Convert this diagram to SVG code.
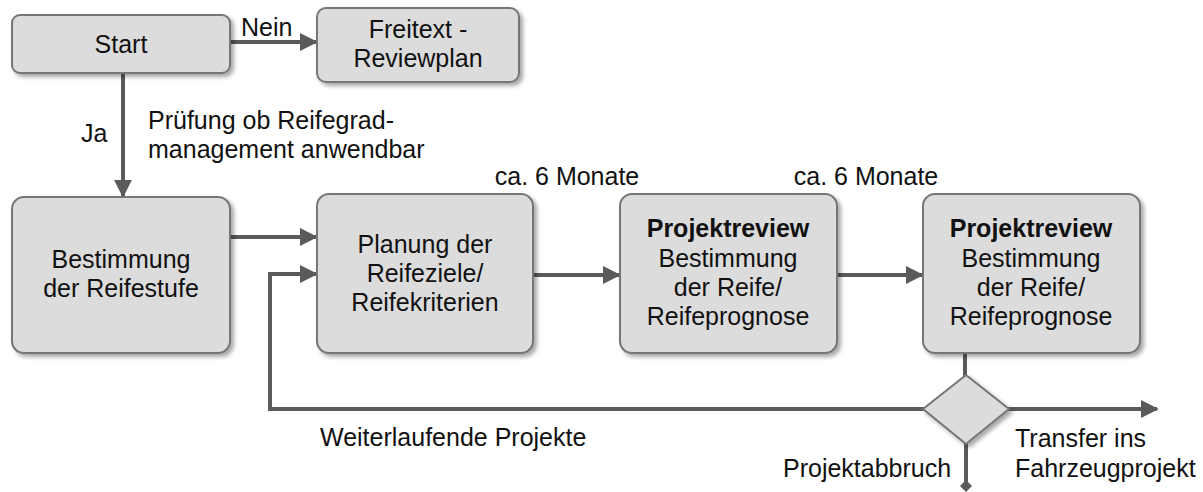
<svg xmlns="http://www.w3.org/2000/svg" width="1203" height="492" viewBox="0 0 1203 492">
  <style>
    .box { fill: #dcdcdc; stroke: #767676; stroke-width: 2; filter: url(#shadow); }
    .lbl { font-family: "Liberation Sans", Arial, sans-serif; font-size: 25px; fill: #111111; }
    .mid { text-anchor: middle; }
    .b { font-weight: bold; }
    .line { fill: none; stroke: #5a5a5a; stroke-width: 4; }
  </style>
  <defs>
    <filter id="shadow" x="-10%" y="-10%" width="125%" height="130%">
      <feGaussianBlur in="SourceAlpha" stdDeviation="2"/>
      <feOffset dx="3" dy="3" result="o"/>
      <feComponentTransfer><feFuncA type="linear" slope="0.35"/></feComponentTransfer>
      <feMerge><feMergeNode/><feMergeNode in="SourceGraphic"/></feMerge>
    </filter>
    <marker id="arrow" viewBox="0 0 10 10" refX="9" refY="5" markerWidth="4.5" markerHeight="4.5" markerUnits="strokeWidth" orient="auto">
      <path d="M0,0 L10,5 L0,10 z" fill="#5a5a5a"/>
    </marker>
    <marker id="dia" viewBox="0 0 10 10" refX="5" refY="5" markerWidth="3" markerHeight="3" markerUnits="strokeWidth" orient="auto">
      <path d="M0,5 L5,0 L10,5 L5,10 z" fill="#5a5a5a"/>
    </marker>
  </defs>

  <!-- connectors -->
  <g id="connectors">
    <line class="line" x1="230" y1="42" x2="316" y2="42" marker-end="url(#arrow)"/>
    <line class="line" x1="123" y1="73" x2="123" y2="196" marker-end="url(#arrow)"/>
    <line class="line" x1="230" y1="237" x2="316" y2="237" marker-end="url(#arrow)"/>
    <polyline class="line" points="925,409 270,409 270,274 316,274" marker-end="url(#arrow)"/>
    <line class="line" x1="533" y1="275" x2="619" y2="275" marker-end="url(#arrow)"/>
    <line class="line" x1="837" y1="275" x2="922" y2="275" marker-end="url(#arrow)"/>
    <line class="line" x1="965" y1="353" x2="965" y2="376"/>
    <line class="line" x1="1008" y1="409" x2="1157" y2="409" marker-end="url(#arrow)"/>
    <line class="line" x1="966" y1="443" x2="966" y2="486" marker-end="url(#dia)"/>
  </g>

  <!-- edge labels -->
  <g id="edge-labels" class="lbl">
    <text x="241" y="36">Nein</text>
    <text x="81" y="142">Ja</text>
    <text x="148" y="129">Prüfung ob Reifegrad-</text>
    <text x="148" y="158">management anwendbar</text>
    <text x="567" y="185" class="mid">ca. 6 Monate</text>
    <text x="866" y="185" class="mid">ca. 6 Monate</text>
    <text x="320" y="446">Weiterlaufende Projekte</text>
    <text x="783" y="477">Projektabbruch</text>
    <text x="1015" y="447">Transfer ins</text>
    <text x="1015" y="477">Fahrzeugprojekt</text>
  </g>

  <g id="start">
    <rect class="box" x="12" y="15" width="218" height="58" rx="8"/>
    <text class="lbl mid" x="121" y="53">Start</text>
  </g>

  <g id="freitext">
    <rect class="box" x="317" y="8" width="202" height="74" rx="9"/>
    <text class="lbl mid" x="418" y="38">Freitext -</text>
    <text class="lbl mid" x="418" y="67">Reviewplan</text>
  </g>

  <g id="bestimmung">
    <rect class="box" x="12" y="197" width="218" height="156" rx="12"/>
    <text class="lbl mid" x="121" y="268">Bestimmung</text>
    <text class="lbl mid" x="121" y="297">der Reifestufe</text>
  </g>

  <g id="planung">
    <rect class="box" x="317" y="194" width="216" height="159" rx="12"/>
    <text class="lbl mid" x="425" y="253">Planung der</text>
    <text class="lbl mid" x="425" y="282">Reifeziele/</text>
    <text class="lbl mid" x="425" y="311">Reifekriterien</text>
  </g>

  <g id="review1">
    <rect class="box" x="620" y="194" width="217" height="159" rx="12"/>
    <text class="lbl mid b" x="728" y="237">Projektreview</text>
    <text class="lbl mid" x="728" y="267">Bestimmung</text>
    <text class="lbl mid" x="728" y="296">der Reife/</text>
    <text class="lbl mid" x="728" y="325">Reifeprognose</text>
  </g>

  <g id="review2">
    <rect class="box" x="923" y="194" width="217" height="159" rx="12"/>
    <text class="lbl mid b" x="1031" y="237">Projektreview</text>
    <text class="lbl mid" x="1031" y="267">Bestimmung</text>
    <text class="lbl mid" x="1031" y="296">der Reife/</text>
    <text class="lbl mid" x="1031" y="325">Reifeprognose</text>
  </g>

  <g id="decision">
    <polygon class="box" points="966,375 1009,409 966,444 923,409"/>
  </g>
</svg>
